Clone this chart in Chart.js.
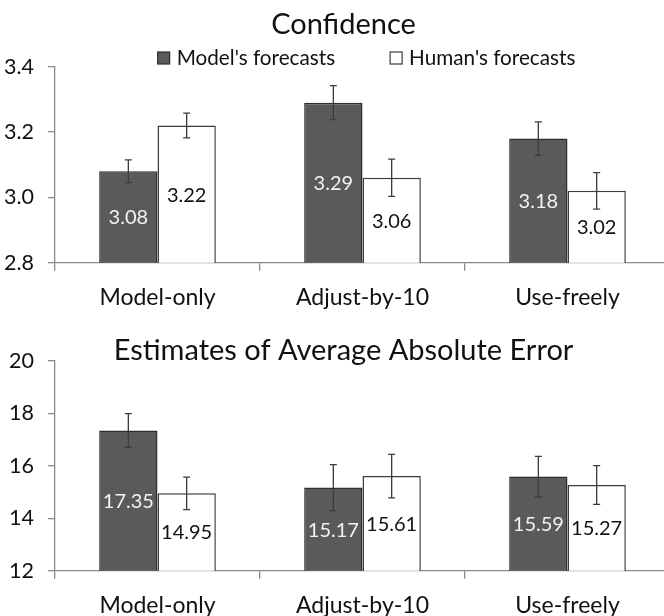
<!DOCTYPE html>
<html>
<head>
<meta charset="utf-8">
<script src="https://cdn.jsdelivr.net/npm/chart.js@4.4.1/dist/chart.umd.min.js"></script>
<style>
  html, body { margin: 0; padding: 0; background: #fff; overflow: hidden; }
  #wrap { width: 664px; height: 616px; overflow: hidden; position: relative; }
  canvas { display: block; position: absolute; left: 0; }
  #confidence { top: 0; }
  #abserror { top: 300px; }
</style>
</head>
<body>
<div id="wrap">
  <canvas id="confidence" width="687" height="314"></canvas>
  <canvas id="abserror" width="687" height="316"></canvas>
</div>
<script>
const categories = ['Model-only', 'Adjust-by-10', 'Use-freely'];
const seriesNames = ["Model's forecasts", "Human's forecasts"];

// Confidence
const confModel = [3.08, 3.29, 3.18];
const confHuman = [3.22, 3.06, 3.02];
const confModelErr = [0.035, 0.052, 0.051];
const confHumanErr = [0.038, 0.057, 0.056];
const confTicks = [2.8, 3.0, 3.2, 3.4];

// Estimates of average absolute error
const maeModel = [17.35, 15.17, 15.59];
const maeHuman = [14.95, 15.61, 15.27];
const maeModelErr = [0.64, 0.88, 0.77];
const maeHumanErr = [0.62, 0.83, 0.74];
const maeTicks = [12, 14, 16, 18, 20];

const FONT = 'Lato';
const AXIS_COLOR = '#8a8a8a';
const DARK = '#5a5a5a';

// error bars + value labels in the middle of each bar
const barExtras = {
    id: 'barExtras',
    afterDatasetsDraw(chart) {
        const ctx = chart.ctx;
        const yScale = chart.scales.y;
        chart.data.datasets.forEach((ds, i) => {
            const meta = chart.getDatasetMeta(i);
            meta.data.forEach((bar, j) => {
                const v = ds.data[j];
                const e = ds.errors[j];
                const yt = yScale.getPixelForValue(v + e);
                const yb = yScale.getPixelForValue(v - e);
                ctx.save();
                ctx.strokeStyle = '#3c3c3c';
                ctx.lineWidth = 1.3;
                ctx.beginPath();
                ctx.moveTo(bar.x, yt); ctx.lineTo(bar.x, yb);
                ctx.moveTo(bar.x - 3.5, yt); ctx.lineTo(bar.x + 3.5, yt);
                ctx.moveTo(bar.x - 3.5, yb); ctx.lineTo(bar.x + 3.5, yb);
                ctx.stroke();

                const mid = yScale.getPixelForValue((v + yScale.min) / 2);
                ctx.fillStyle = ds.labelColor || '#111';
                ctx.font = '20px ' + FONT;
                ctx.textAlign = 'center';
                ctx.textBaseline = 'middle';
                ctx.fillText(v.toFixed(2), bar.x, mid + 1);
                ctx.restore();
            });
        });
    }
};

// title and legend drawn above the plot
const header = {
    id: 'header',
    afterDraw(chart, args, opts) {
        const ctx = chart.ctx;
        ctx.save();
        ctx.fillStyle = '#111';
        ctx.font = '29px ' + FONT;
        ctx.textAlign = 'center';
        ctx.textBaseline = 'middle';
        ctx.fillText(opts.text, chart.width / 2, opts.titleY);

        if (opts.legend) {
            ctx.font = '20.7px ' + FONT;
            const box = 12, gapText = 7, gapItem = 55;
            const widths = chart.data.datasets.map(d => ctx.measureText(d.label).width);
            const total = widths.reduce((a, w) => a + box + gapText + w, 0) + gapItem;
            const cx = (chart.chartArea.left + chart.chartArea.right) / 2 + 4;
            let x = cx - total / 2;
            chart.data.datasets.forEach((d, i) => {
                ctx.fillStyle = d.backgroundColor;
                ctx.strokeStyle = d.borderColor;
                ctx.lineWidth = 1.2;
                ctx.fillRect(x, opts.legendY - box / 2, box, box);
                ctx.strokeRect(x, opts.legendY - box / 2, box, box);
                ctx.fillStyle = '#111';
                ctx.textAlign = 'left';
                ctx.fillText(d.label, x + box + gapText, opts.legendY);
                x += box + gapText + widths[i] + gapItem;
            });
        }
        ctx.restore();
    }
};

function makeChart(id, cfg) {
    const canvas = document.getElementById(id);
    const h = canvas.height;
    return new Chart(canvas, {
        type: 'bar',
        data: {
            labels: categories,
            datasets: [
                { label: seriesNames[0], data: cfg.model, errors: cfg.modelErr,
                  backgroundColor: DARK, borderColor: '#2e2e2e', borderWidth: 1.5,
                  labelColor: '#f2f2f2' },
                { label: seriesNames[1], data: cfg.human, errors: cfg.humanErr,
                  backgroundColor: '#ffffff', borderColor: '#3c3c3c', borderWidth: 1.5,
                  labelColor: '#111' }
            ]
        },
        options: {
            responsive: false,
            animation: false,
            devicePixelRatio: 1,
            categoryPercentage: 0.569,
            barPercentage: 1.0,
            layout: { padding: { top: cfg.top, left: 0, right: 17, bottom: 0 } },
            plugins: {
                legend: { display: false },
                title: { display: false },
                tooltip: { enabled: false },
                header: { text: cfg.title, titleY: cfg.titleY, legend: cfg.legend, legendY: cfg.legendY }
            },
            scales: {
                x: {
                    grid: { offset: true, drawOnChartArea: false, drawTicks: true, tickLength: 8, color: AXIS_COLOR, lineWidth: 1.3 },
                    border: { display: true, color: AXIS_COLOR, width: 1.3 },
                    ticks: { color: '#111', font: { family: FONT, size: 23 }, padding: 13, maxRotation: 0 },
                    afterFit: s => { s.height = h - cfg.bottom; }
                },
                y: {
                    min: cfg.ticks[0],
                    max: cfg.ticks[cfg.ticks.length - 1],
                    afterBuildTicks: s => { s.ticks = cfg.ticks.map(v => ({ value: v })); },
                    grid: { drawOnChartArea: false, drawTicks: true, tickLength: 7, color: AXIS_COLOR, lineWidth: 1.3 },
                    border: { display: true, color: AXIS_COLOR, width: 1.3 },
                    ticks: { color: '#111', font: { family: FONT, size: 21.5 }, padding: 14,
                             callback: v => v.toFixed(cfg.decimals) },
                    afterFit: s => { s.width = 55; }
                }
            }
        },
        plugins: [barExtras, header]
    });
}

makeChart('confidence', {
    title: 'Confidence', model: confModel, human: confHuman,
    modelErr: confModelErr, humanErr: confHumanErr, ticks: confTicks, decimals: 1,
    top: 66.7, bottom: 262.7, titleY: 25, legend: true, legendY: 58
});

makeChart('abserror', {
    title: 'Estimates of Average Absolute Error', model: maeModel, human: maeHuman,
    modelErr: maeModelErr, humanErr: maeHumanErr, ticks: maeTicks, decimals: 0,
    top: 61, bottom: 270.7, titleY: 51, legend: false
});
</script>
</body>
</html>
